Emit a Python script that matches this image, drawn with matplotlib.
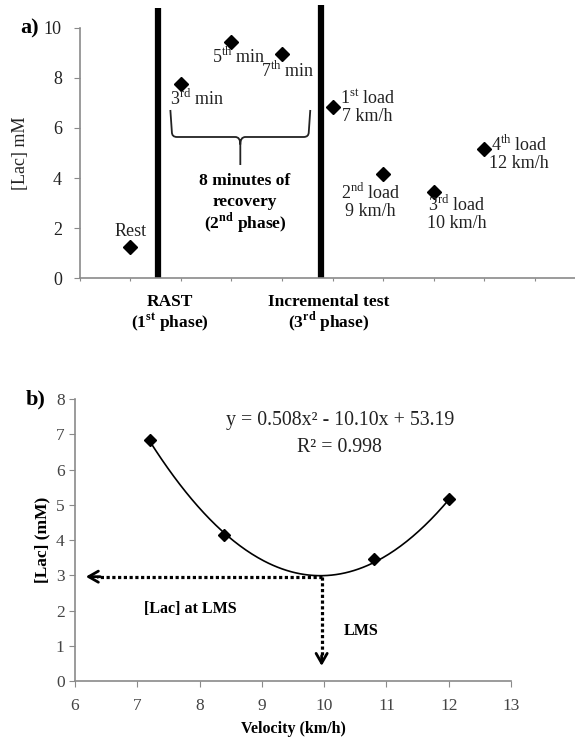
import numpy as np
import matplotlib
matplotlib.use("Agg")
import matplotlib.pyplot as plt
from matplotlib.path import Path
from matplotlib.patches import PathPatch

plt.rcParams['font.family'] = ['Liberation Serif', 'DejaVu Serif']
plt.rcParams['mathtext.fontset'] = 'custom'
plt.rcParams['mathtext.rm'] = 'Liberation Serif'
plt.rcParams['mathtext.bf'] = 'Liberation Serif:bold'

# --- panel a data ---
stages = ["Rest", "3rd min", "5th min", "7th min", "1st load", "2nd load", "3rd load", "4th load"]
stage_x = [1, 2, 3, 4, 5, 6, 7, 8]
lac_a = [1.25, 7.75, 9.45, 8.95, 6.85, 4.15, 3.45, 5.15]
phase_lines = [1.55, 4.78]

# --- panel b data ---
velocity = [7.2, 8.4, 10.8, 12.0]
lac_b = [6.85, 4.15, 3.47, 5.15]
fit_coef = [0.508, -10.10, 53.19]
lms_vel = 9.96
lms_lac = 2.96

AX_GREY = '#8a8a8a'
TXT = '#222222'

fig = plt.figure(figsize=(5.75, 7.42), dpi=100)

# ---------------- a) ----------------
ax = fig.add_axes([0.139, 0.6253, 0.861, 0.337])
ax.plot(stage_x, lac_a, 'D', color='black', markersize=7.5, clip_on=False, zorder=3)
for xl, top in zip(phase_lines, [10.8, 10.9]):
    ax.plot([xl, xl], [0, top], color='black', lw=4.5, solid_capstyle='butt', clip_on=False)

ax.set_xlim(0, 9.8)
ax.set_ylim(0, 10)
ax.set_xticks(range(0, 10))
ax.set_xticklabels([])
ax.set_yticks(range(0, 11, 2))
ax.tick_params(axis='y', direction='out', length=4, color=AX_GREY, labelsize=13, labelcolor=TXT, pad=9)
ax.tick_params(axis='x', direction='out', length=2.5, color=AX_GREY)
for s in ['top', 'right']:
    ax.spines[s].set_visible(False)
for s in ['left', 'bottom']:
    ax.spines[s].set_color(AX_GREY)
    ax.spines[s].set_linewidth(1.2)
ax.set_ylabel('[Lac] mM', fontsize=13, color=TXT, labelpad=11)

fs = 13
ax.text(1.0, 1.88, 'Rest', ha='center', va='center', fontsize=fs, color=TXT)
ax.text(1.79, 7.16, '3$^{\\rm rd}$ min', ha='left', va='center', fontsize=fs, color=TXT)
ax.text(2.61, 8.84, '5$^{\\rm th}$ min', ha='left', va='center', fontsize=fs, color=TXT)
ax.text(3.58, 8.28, '7$^{\\rm th}$ min', ha='left', va='center', fontsize=fs, color=TXT)
ax.text(5.69, 6.84, '1$^{\\rm st}$ load\n7 km/h', ha='center', va='center', fontsize=fs, color=TXT, linespacing=1.0)
ax.text(5.75, 3.06, '2$^{\\rm nd}$ load\n9 km/h', ha='center', va='center', fontsize=fs, color=TXT, linespacing=1.0)
ax.text(7.46, 2.6, '3$^{\\rm rd}$ load\n10 km/h', ha='center', va='center', fontsize=fs, color=TXT, linespacing=1.0)
ax.text(8.69, 5.0, '4$^{\\rm th}$ load\n12 km/h', ha='center', va='center', fontsize=fs, color=TXT, linespacing=1.0)

# bold block labels, one line at a time so the spacing stays even
bold = dict(ha='center', va='baseline', fontsize=12.5, fontweight='bold', color='black', clip_on=False)
for txt, yy in zip(['8 minutes of', 'recovery', '(2$^{\\mathbf{nd}}$ phase)'], [3.74, 2.9, 2.0]):
    ax.text(3.27, yy, txt, **bold)
for txt, yy in zip(['RAST', '(1$^{\\mathbf{st}}$ phase)'], [-1.1, -1.98]):
    ax.text(1.79, yy, txt, **bold)
for txt, yy in zip(['Incremental test', '(3$^{\\mathbf{rd}}$ phase)'], [-1.1, -1.98]):
    ax.text(4.92, yy, txt, **bold)

# curly brace under the recovery samples
x0, x1, ytop, yh, ytip = 1.82, 4.53, 6.72, 5.64, 4.52
xm = (x0 + x1) / 2
verts = [(x0 - 0.03, ytop), (x0, yh + 0.2), (x0, yh), (x0 + 0.1, yh),
         (xm - 0.1, yh), (xm, yh), (xm, yh - 0.3), (xm, ytip),
         (xm, yh - 0.3), (xm, yh), (xm + 0.1, yh),
         (x1 - 0.1, yh), (x1, yh), (x1, yh + 0.2), (x1 + 0.03, ytop)]
codes = [Path.MOVETO, Path.LINETO, Path.CURVE3, Path.CURVE3,
         Path.LINETO, Path.CURVE3, Path.CURVE3, Path.LINETO,
         Path.MOVETO, Path.CURVE3, Path.CURVE3,
         Path.LINETO, Path.CURVE3, Path.CURVE3, Path.LINETO]
ax.add_patch(PathPatch(Path(verts, codes), fill=False, lw=1.3, color='#222222'))

fig.text(0.035, 0.962, 'a)', fontsize=16, fontweight='bold', va='center', ha='left')

# ---------------- b) ----------------
bx = fig.add_axes([0.1304, 0.0822, 0.7583, 0.380])
xs = np.linspace(velocity[0], velocity[-1], 200)
bx.plot(xs, np.polyval(fit_coef, xs), color='black', lw=1.2)
bx.plot(velocity, lac_b, 'D', color='black', markersize=6, zorder=3)

bx.set_xlim(6, 13)
bx.set_ylim(0, 8)
bx.set_xticks(range(6, 14))
bx.set_yticks(range(0, 9))
bx.tick_params(direction='out', length=4, color=AX_GREY, labelsize=12.5, labelcolor='#444444')
bx.tick_params(axis='x', pad=8)
for s in ['top', 'right']:
    bx.spines[s].set_visible(False)
for s in ['left', 'bottom']:
    bx.spines[s].set_color(AX_GREY)
    bx.spines[s].set_linewidth(1.2)
bx.set_xlabel('Velocity (km/h)', fontsize=11.5, fontweight='bold', labelpad=5)
bx.set_ylabel('[Lac] (mM)', fontsize=12.5, fontweight='bold', labelpad=4)

# dotted guides to LMS
bx.plot([lms_vel, 6.35], [lms_lac, lms_lac], color='black', lw=2.3, linestyle=(0, (1, 0.8)))
bx.plot([lms_vel, lms_vel], [lms_lac, 0.6], color='black', lw=2.3, linestyle=(0, (1, 0.8)))
bx.annotate('', xy=(6.13, lms_lac), xytext=(6.45, lms_lac),
            arrowprops=dict(arrowstyle='->,head_length=0.7,head_width=0.4', lw=2.0, color='black'))
bx.annotate('', xy=(lms_vel, 0.35), xytext=(lms_vel, 0.8),
            arrowprops=dict(arrowstyle='->,head_length=0.7,head_width=0.4', lw=2.0, color='black'))

bx.text(7.85, 2.04, '[Lac] at LMS', ha='center', va='center', fontsize=11.5, fontweight='bold')
bx.text(10.6, 1.42, 'LMS', ha='center', va='center', fontsize=11.5, fontweight='bold')
bx.text(10.25, 7.38, 'y = 0.508x² - 10.10x + 53.19', ha='center', va='center', fontsize=14.3, color=TXT)
bx.text(10.25, 6.62, 'R² = 0.998', ha='center', va='center', fontsize=14.3, color=TXT)

fig.text(0.045, 0.462, 'b)', fontsize=16, fontweight='bold', va='center', ha='left')

fig.savefig('out.png', dpi=100)
